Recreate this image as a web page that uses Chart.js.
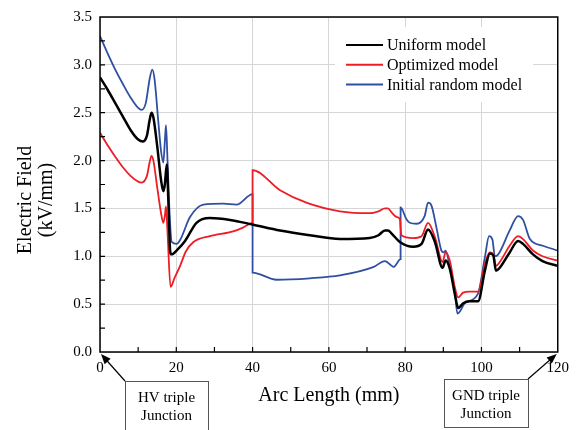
<!DOCTYPE html>
<html>
<head>
<meta charset="utf-8">
<script src="https://cdn.jsdelivr.net/npm/chart.js@4.4.1/dist/chart.umd.min.js"></script>
<style>
  html, body { margin: 0; padding: 0; background: #fff; }
</style>
</head>
<body>
<canvas id="fieldChart" width="576" height="430"></canvas>
<script>
// values (arc length in mm, field in kV/mm)
const uniformX = [0, 2, 4, 6, 8, 10, 11.3, 12.3, 13.0, 13.5, 14.0, 15.0, 16.0, 16.6, 17.0, 17.5, 17.9, 18.4, 18.7, 19.3, 20.1, 22.3, 25.3, 28.8, 34.1, 40.2, 47.2, 55, 62.9, 70.7, 73, 74.7, 75.5, 76.4, 78.6, 82.1, 84.3, 86.0, 87.8, 89.8, 90.6, 91.7, 93.0, 93.9, 95.2, 96.9, 99.1, 100.9, 102.2, 103.1, 103.8, 104.8, 107.4, 109.6, 110.9, 113.5, 116, 120];
const uniformY = [2.87, 2.74, 2.60, 2.46, 2.32, 2.22, 2.20, 2.26, 2.42, 2.50, 2.45, 2.15, 1.80, 1.68, 1.75, 1.96, 1.60, 1.05, 1.02, 1.03, 1.06, 1.16, 1.35, 1.40, 1.38, 1.33, 1.27, 1.22, 1.18, 1.19, 1.22, 1.27, 1.27, 1.24, 1.15, 1.10, 1.13, 1.28, 1.15, 0.88, 0.955, 0.87, 0.61, 0.46, 0.51, 0.53, 0.53, 0.85, 1.03, 1.01, 0.85, 0.88, 1.04, 1.16, 1.13, 1.02, 0.95, 0.90];

const optimizedX = [0, 2, 4, 6, 8, 10, 10.9, 12.3, 13.0, 13.5, 14.0, 15.0, 16.0, 16.6, 17.0, 17.3, 17.7, 18.5, 19.5, 21.0, 22.5, 24.5, 28.8, 34.9, 37.5, 40.0, 40.0, 47.2, 54.1, 62.9, 70.7, 73, 74.7, 75.5, 76.4, 77.8, 78.6, 79.0, 82.1, 84.3, 86.0, 87.8, 89.8, 90.6, 91.7, 93.0, 93.9, 95.2, 96.9, 99.1, 100.9, 102.2, 103.1, 103.8, 104.8, 107.4, 109.6, 110.9, 113.5, 116, 120];
const optimizedY = [2.29, 2.16, 2.04, 1.93, 1.84, 1.78, 1.77, 1.84, 1.98, 2.05, 2.00, 1.72, 1.45, 1.35, 1.42, 1.52, 1.25, 0.68, 0.77, 0.90, 1.05, 1.15, 1.21, 1.26, 1.30, 1.35, 1.90, 1.69, 1.56, 1.47, 1.45, 1.47, 1.50, 1.50, 1.46, 1.41, 1.39, 1.22, 1.19, 1.21, 1.35, 1.20, 0.94, 1.04, 0.955, 0.68, 0.57, 0.62, 0.63, 0.63, 0.92, 1.04, 1.02, 0.90, 0.94, 1.11, 1.21, 1.18, 1.06, 1.00, 0.955];

const randomX = [0, 2, 4, 6, 8, 10, 10.9, 12.0, 13.0, 13.7, 14.3, 15.3, 16.0, 16.6, 17.0, 17.3, 17.7, 18.3, 18.8, 20.1, 21.0, 23.6, 27.1, 32.3, 35.8, 40.0, 40.0, 46.3, 55, 62.9, 71.6, 74.7, 77.0, 78.8, 78.8, 80.3, 81.2, 83.0, 85.1, 86.0, 86.9, 88.2, 89.5, 90.1, 90.6, 91.7, 93.0, 93.7, 94.3, 95.6, 99.1, 100.9, 102.0, 102.9, 103.5, 104.4, 107.4, 109.6, 110.9, 112.7, 116.1, 120];
const randomY = [3.30, 3.12, 2.95, 2.80, 2.66, 2.55, 2.53, 2.60, 2.85, 2.95, 2.85, 2.40, 2.10, 1.98, 2.20, 2.37, 2.00, 1.40, 1.15, 1.13, 1.17, 1.41, 1.54, 1.55, 1.54, 1.65, 0.83, 0.755, 0.77, 0.80, 0.886, 0.95, 0.89, 0.97, 1.51, 1.39, 1.35, 1.34, 1.42, 1.56, 1.53, 1.30, 1.06, 1.04, 1.06, 0.89, 0.64, 0.40, 0.42, 0.51, 0.61, 0.99, 1.21, 1.17, 1.00, 1.02, 1.27, 1.42, 1.38, 1.18, 1.11, 1.06];

const seriesNames = ['Uniform model', 'Optimized model', 'Initial random model'];
const seriesColors = ['#000000', '#ee1d25', '#2f4fa2'];
const xTitle = 'Arc Length (mm)';
const yTitle = ['Electric Field', '(kV/mm)'];
const hvLabel = ['HV triple', 'Junction'];
const gndLabel = ['GND triple', 'Junction'];

const serif = "'Liberation Serif', 'Times New Roman', serif";

const toPoints = (xs, ys) => xs.map((x, i) => ({ x: x, y: ys[i] }));

// frame, inward minor ticks and y title
const framePlugin = {
  id: 'frame',
  afterDraw(chart) {
    const { ctx, chartArea: a, scales: { x, y } } = chart;
    ctx.save();
    ctx.strokeStyle = '#000';
    ctx.lineWidth = 1.5;
    ctx.strokeRect(a.left, a.top, a.right - a.left, a.bottom - a.top);
    ctx.lineWidth = 1.2;
    ctx.beginPath();
    for (let v = 10; v < 120; v += 10) {
      const px = x.getPixelForValue(v);
      ctx.moveTo(px, a.bottom);
      ctx.lineTo(px, a.bottom - 5);
    }
    for (let v = 0.25; v < 3.5; v += 0.25) {
      const py = y.getPixelForValue(v);
      ctx.moveTo(a.left, py);
      ctx.lineTo(a.left + 5, py);
    }
    ctx.stroke();

    ctx.fillStyle = '#000';
    ctx.font = '20px ' + serif;
    ctx.textAlign = 'center';
    ctx.textBaseline = 'middle';
    ctx.translate(36, 200);
    ctx.rotate(-Math.PI / 2);
    ctx.fillText(yTitle[0], 0, -10);
    ctx.fillText(yTitle[1], 0, 11);
    ctx.restore();
  }
};

// legend box in the upper right
const legendPlugin = {
  id: 'boxLegend',
  afterDraw(chart) {
    const ctx = chart.ctx;
    ctx.save();
    ctx.fillStyle = '#fff';
    ctx.fillRect(335, 27, 198, 75);
    ctx.font = '16px ' + serif;
    ctx.textBaseline = 'middle';
    chart.data.datasets.forEach((ds, i) => {
      const rowY = 45 + i * 19.7;
      ctx.strokeStyle = ds.borderColor;
      ctx.lineWidth = 2;
      ctx.beginPath();
      ctx.moveTo(346, rowY);
      ctx.lineTo(383, rowY);
      ctx.stroke();
      ctx.fillStyle = '#000';
      ctx.fillText(ds.label, 387, rowY + 1);
    });
    ctx.restore();
  }
};

// callout boxes pointing at both triple junctions
const calloutPlugin = {
  id: 'callouts',
  afterDraw(chart) {
    const { ctx, scales: { x, y } } = chart;
    const baseY = y.getPixelForValue(0);

    const arrow = (x0, y0, x1, y1) => {
      const ang = Math.atan2(y1 - y0, x1 - x0);
      ctx.beginPath();
      ctx.moveTo(x0, y0);
      ctx.lineTo(x1 - 8 * Math.cos(ang), y1 - 8 * Math.sin(ang));
      ctx.stroke();
      ctx.beginPath();
      ctx.moveTo(x1, y1);
      ctx.lineTo(x1 - 10 * Math.cos(ang) + 4 * Math.sin(ang), y1 - 10 * Math.sin(ang) - 4 * Math.cos(ang));
      ctx.lineTo(x1 - 10 * Math.cos(ang) - 4 * Math.sin(ang), y1 - 10 * Math.sin(ang) + 4 * Math.cos(ang));
      ctx.closePath();
      ctx.fill();
    };

    const box = (left, top, w, h, lines) => {
      ctx.strokeStyle = '#555';
      ctx.lineWidth = 1;
      ctx.strokeRect(left + 0.5, top + 0.5, w, h);
      ctx.fillStyle = '#000';
      ctx.font = '15px ' + serif;
      ctx.textAlign = 'center';
      ctx.textBaseline = 'middle';
      ctx.fillText(lines[0], left + w / 2, top + 17);
      ctx.fillText(lines[1], left + w / 2, top + 35);
    };

    ctx.save();
    ctx.strokeStyle = '#000';
    ctx.fillStyle = '#000';
    ctx.lineWidth = 1.2;
    arrow(125, 381, x.getPixelForValue(0) + 1, baseY + 2);
    arrow(528, 379, x.getPixelForValue(120) - 1, baseY + 2);
    box(125, 381, 83, 55, hvLabel);
    box(444, 379, 84, 48, gndLabel);
    ctx.restore();
  }
};

const ctx = document.getElementById('fieldChart').getContext('2d');
new Chart(ctx, {
  type: 'line',
  data: {
    datasets: [
      { label: seriesNames[0], data: toPoints(uniformX, uniformY), borderColor: seriesColors[0], borderWidth: 2.5 },
      { label: seriesNames[1], data: toPoints(optimizedX, optimizedY), borderColor: seriesColors[1], borderWidth: 1.8 },
      { label: seriesNames[2], data: toPoints(randomX, randomY), borderColor: seriesColors[2], borderWidth: 1.8 }
    ]
  },
  options: {
    responsive: false,
    animation: false,
    devicePixelRatio: 1,
    cubicInterpolationMode: 'monotone',
    elements: { point: { radius: 0 }, line: { fill: false } },
    layout: { padding: { left: 0, top: 15, right: 18, bottom: 22 } },
    plugins: { legend: { display: false }, tooltip: { enabled: false } },
    scales: {
      x: {
        type: 'linear',
        min: 0,
        max: 120,
        ticks: { stepSize: 20, color: '#000', font: { family: serif, size: 15 }, padding: 7, maxRotation: 0 },
        grid: { color: '#d6d6d6', lineWidth: 1, drawTicks: false },
        border: { display: false },
        title: { display: true, text: xTitle, color: '#000', font: { family: serif, size: 20 }, padding: 0 },
        afterFit: (s) => { s.height = 56; }
      },
      y: {
        min: 0,
        max: 3.5,
        ticks: { stepSize: 0.5, color: '#000', font: { family: serif, size: 15 }, padding: 8, callback: (v) => v.toFixed(1) },
        grid: { color: '#d6d6d6', lineWidth: 1, drawTicks: false },
        border: { display: false },
        afterFit: (s) => { s.width = 100; }
      }
    }
  },
  plugins: [framePlugin, legendPlugin, calloutPlugin]
});
</script>
</body>
</html>
